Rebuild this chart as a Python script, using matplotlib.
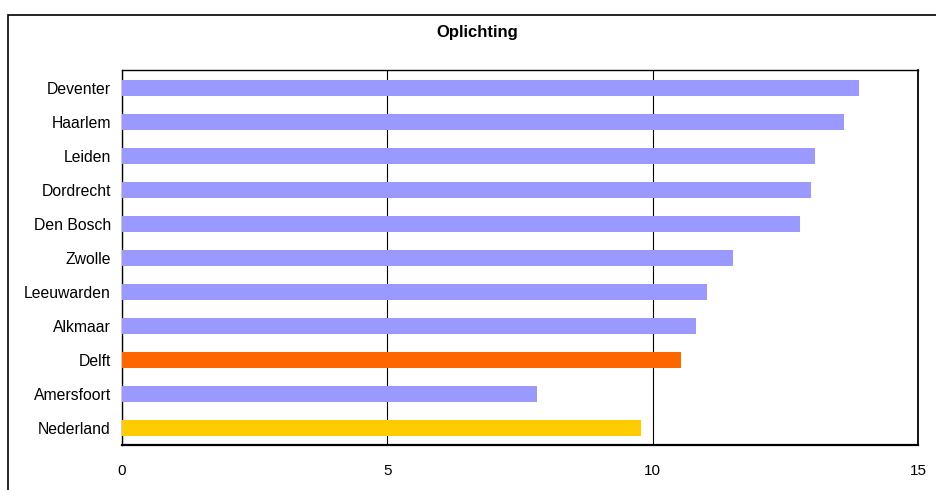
import matplotlib
matplotlib.use("Agg")
import matplotlib.pyplot as plt
from matplotlib.patches import Rectangle

categories = ["Deventer", "Haarlem", "Leiden", "Dordrecht", "Den Bosch", "Zwolle",
              "Leeuwarden", "Alkmaar", "Delft", "Amersfoort", "Nederland"]
values = [13.89, 13.6, 13.06, 12.98, 12.78, 11.51, 11.02, 10.82, 10.53, 7.82, 9.78]
colors = ["#9999FF"] * 8 + ["#FF6600", "#9999FF", "#FFCC00"]
xticks = [0, 5, 10, 15]
title = "Oplichting"

plt.rcParams['font.family'] = ['Liberation Sans', 'DejaVu Sans']

fig = plt.figure(figsize=(9.37, 4.90), dpi=100)
ax = fig.add_axes([122/937, 1 - 445/490, (918 - 122)/937, (445 - 70)/490])

# outer chart frame (left and top visible)
fig.patches.append(Rectangle((8.5/937, -0.2), 1.2, 1.2 - 15/490,
                             transform=fig.transFigure, fill=False,
                             edgecolor="black", linewidth=1.2))

ypos = list(range(len(categories)))
ax.barh(ypos, values, height=0.45, color=colors, zorder=3)
ax.set_ylim(len(categories) - 0.5, -0.53)
ax.set_yticks(ypos)
ax.set_yticklabels(categories, fontsize=11.3)
ax.set_xlim(0, 15)
ax.set_xticks(xticks)
ax.set_xticklabels([str(t) for t in xticks], fontsize=11)
ax.tick_params(length=0, pad=8)
ax.tick_params(axis='x', pad=14)
ax.xaxis.grid(True, color="black", linewidth=0.8, zorder=0)
ax.set_axisbelow(True)
for s in ax.spines.values():
    s.set_color("black")
    s.set_linewidth(1.0)
ax.spines['bottom'].set_linewidth(1.6)
ax.spines['right'].set_linewidth(1.3)

fig.text(477/937, 1 - 33/490, title, ha="center", va="center",
         fontsize=12, fontweight="bold")

fig.savefig("out.png", dpi=100)
